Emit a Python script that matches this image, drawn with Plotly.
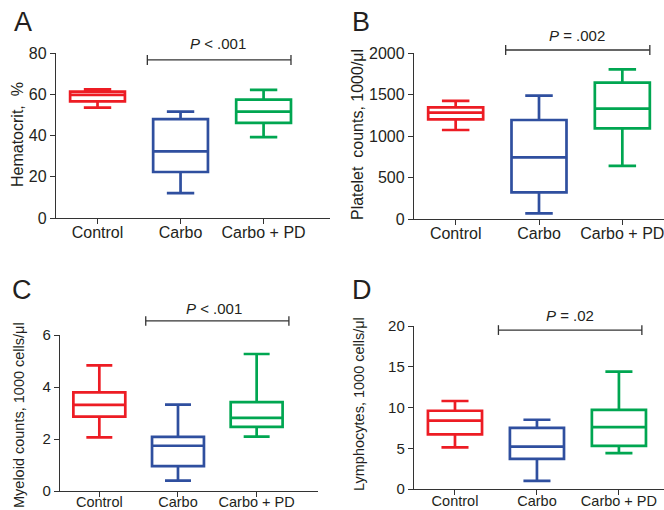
import plotly.graph_objects as go

W, H = 664, 510

groups = ['Control', 'Carbo', 'Carbo + PD']
colors = ['#ed1c24', '#2f4f9f', '#00a651']

# box stats per panel: lower whisker, q1, median, q3, upper whisker (one value per group)
hct_low = [53.5, 12.1, 39.2]
hct_q1 = [56.5, 22.3, 46.1]
hct_med = [59.7, 32.3, 51.6]
hct_q3 = [61.3, 47.9, 57.4]
hct_high = [62.4, 51.6, 62.1]

plt_low = [1072, 68, 639]
plt_q1 = [1201, 321, 1092]
plt_med = [1281, 743, 1329]
plt_q3 = [1345, 1193, 1643]
plt_high = [1422, 1486, 1803]

mye_low = [2.06, 0.40, 2.09]
mye_q1 = [2.86, 0.96, 2.47]
mye_med = [3.31, 1.74, 2.81]
mye_q3 = [3.79, 2.08, 3.42]
mye_high = [4.83, 3.32, 5.27]

lym_low = [5.1, 1.0, 4.4]
lym_q1 = [6.7, 3.7, 5.3]
lym_med = [8.4, 5.2, 7.6]
lym_q3 = [9.6, 7.5, 9.7]
lym_high = [10.8, 8.5, 14.4]

panels = [
    dict(letter='A', title='Hematocrit,  %', p='<i>P</i> &lt; .001', yr=[0, 80], dtick=20,
         stats=(hct_low, hct_q1, hct_med, hct_q3, hct_high),
         xdom=[56 / W, 330 / W], ydom=[1 - 218 / H, 1 - 53 / H], xr=[-0.5, 2.8],
         br=[0.6, 2.33, 0.958], ptxt=[1.45, 1.06], fs=16, xfs=16, tfs=16, sto=-5,
         tpos=[18, 135], lpos=[12, 22]),
    dict(letter='B', title='Platelet  counts, 1000/μl', p='<i>P</i> = .002', yr=[0, 2000], dtick=500,
         stats=(plt_low, plt_q1, plt_med, plt_q3, plt_high),
         xdom=[414 / W, 1.0], ydom=[1 - 219 / H, 1 - 53 / H], xr=[-0.5, 2.5],
         br=[0.6, 2.33, 1.018], ptxt=[1.46, 1.108], fs=16, xfs=16, tfs=16, sto=-5,
         tpos=[358, 135], lpos=[350, 22]),
    dict(letter='C', title='Myeloid counts, 1000 cells/μl', p='<i>P</i> &lt; .001', yr=[0, 6], dtick=2,
         stats=(mye_low, mye_q1, mye_med, mye_q3, mye_high),
         xdom=[60 / W, 318 / W], ydom=[1 - 491 / H, 1 - 335 / H], xr=[-0.5, 2.78],
         br=[0.59, 2.41, 1.09], ptxt=[1.46, 1.17], fs=15, xfs=14.5, tfs=14.5, sto=-8,
         tpos=[19, 415], lpos=[10, 290]),
    dict(letter='D', title='Lymphocytes, 1000 cells/μl', p='<i>P</i> = .02', yr=[0, 20], dtick=5,
         stats=(lym_low, lym_q1, lym_med, lym_q3, lym_high),
         xdom=[414 / W, 1.0], ydom=[1 - 489 / H, 1 - 326 / H], xr=[-0.5, 2.55],
         br=[0.53, 2.28, 0.975], ptxt=[1.40, 1.067], fs=15, xfs=14.5, tfs=14.5, sto=-7,
         tpos=[359, 404], lpos=[350, 290]),
]

fig = go.Figure()
ink = '#231f20'
shapes = []
annotations = []
layout = {}

for k, pn in enumerate(panels):
    n = '' if k == 0 else str(k + 1)
    xa, ya = 'x' + n, 'y' + n
    low, q1, med, q3, high = pn['stats']
    for i, g in enumerate(groups):
        fig.add_trace(go.Box(
            x=[g], lowerfence=[low[i]], q1=[q1[i]], median=[med[i]], q3=[q3[i]],
            upperfence=[high[i]], width=0.66, whiskerwidth=0.5,
            line=dict(color=colors[i], width=2.7), fillcolor='rgba(255,255,255,0)',
            boxpoints=False, showlegend=False, xaxis=xa, yaxis=ya, hoverinfo='skip'))

    layout['xaxis' + n] = dict(
        domain=pn['xdom'], anchor=ya, range=pn['xr'], type='category', automargin=False,
        categoryorder='array', categoryarray=groups,
        showline=True, linecolor='#333333', linewidth=1.4,
        ticks='outside', ticklen=5, tickwidth=1.2, tickcolor='#333333',
        ticklabelstandoff=pn['sto'],
        showgrid=False, zeroline=False,
        tickfont=dict(size=pn['xfs'], color=ink, family='Liberation Sans, Arial'))
    layout['yaxis' + n] = dict(
        domain=pn['ydom'], anchor=xa, range=pn['yr'], dtick=pn['dtick'], automargin=False,
        showline=True, linecolor='#333333', linewidth=1.4,
        ticks='outside', ticklen=5, tickwidth=1.2, tickcolor='#333333',
        showgrid=False, zeroline=False,
        tickfont=dict(size=pn['fs'], color=ink, family='Liberation Sans, Arial'))

    # significance bracket
    x0, x1, yb = pn['br']
    yd = ya + ' domain'
    line = dict(color='#333333', width=1.3)
    shapes.append(dict(type='line', xref=xa, yref=yd, x0=x0, x1=x1, y0=yb, y1=yb, line=line))
    for xe in (x0, x1):
        shapes.append(dict(type='line', xref=xa, yref=yd, x0=xe, x1=xe,
                           y0=yb - 0.03, y1=yb + 0.03, line=line))
    annotations.append(dict(text=pn['p'], xref=xa, yref=yd, x=pn['ptxt'][0], y=pn['ptxt'][1],
                            showarrow=False, xanchor='center', yanchor='middle',
                            font=dict(size=15, color=ink)))

    # y title
    annotations.append(dict(text=pn['title'], xref='paper', yref='paper',
                            x=pn['tpos'][0] / W, y=1 - pn['tpos'][1] / H, textangle=-90,
                            showarrow=False, xanchor='center', yanchor='middle',
                            font=dict(size=pn['tfs'], color=ink)))
    # panel letter
    annotations.append(dict(text=pn['letter'], xref='paper', yref='paper',
                            x=pn['lpos'][0] / W, y=1 - pn['lpos'][1] / H,
                            showarrow=False, xanchor='left', yanchor='middle',
                            font=dict(size=27, color=ink)))

fig.update_layout(
    width=W, height=H, margin=dict(l=0, r=0, t=0, b=0),
    paper_bgcolor='white', plot_bgcolor='white',
    font=dict(family='Liberation Sans, Arial, sans-serif', color=ink),
    shapes=shapes, annotations=annotations, **layout)

# drop the page's default body margin so the figure fills the window
fig.write_html("out.html", config={'displayModeBar': False},
               post_script="document.body.style.margin='0px';")
